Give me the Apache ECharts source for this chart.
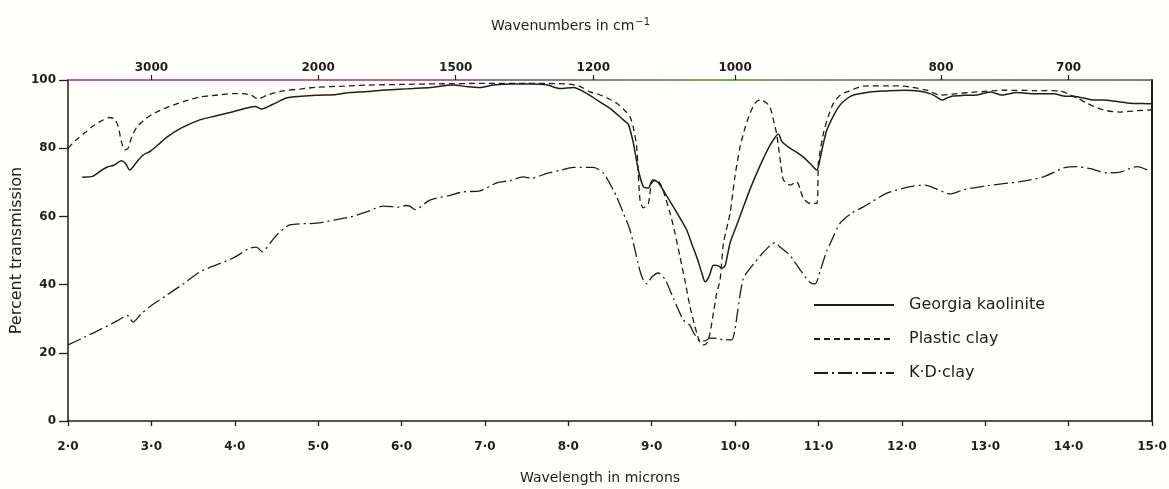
<!DOCTYPE html>
<html>
<head>
<meta charset="utf-8">
<script src="https://cdn.jsdelivr.net/npm/echarts@6/dist/echarts.min.js"></script>
<style>
html,body{margin:0;padding:0;background:#fefefa;}
#chart{width:1169px;height:489px;}
</style>
</head>
<body>
<div id="chart"></div>
<script>
// ---- Data (wavelength in microns, percent transmission) ----
const georgiaWavelength = [2.17,2.30,2.40,2.47,2.55,2.64,2.69,2.74,2.82,2.90,2.98,3.08,3.19,3.35,3.58,3.78,3.98,4.18,4.25,4.32,4.45,4.62,4.80,4.98,5.20,5.38,5.60,5.80,5.98,6.14,6.35,6.62,6.80,6.94,7.10,7.34,7.55,7.74,7.90,8.06,8.22,8.35,8.50,8.66,8.72,8.78,8.84,8.90,8.96,9.01,9.06,9.10,9.18,9.26,9.34,9.42,9.48,9.54,9.60,9.64,9.69,9.74,9.80,9.84,9.88,9.94,10.02,10.10,10.18,10.26,10.34,10.42,10.52,10.56,10.66,10.74,10.82,10.90,10.98,11.02,11.06,11.10,11.18,11.26,11.34,11.42,11.62,11.82,12.02,12.20,12.34,12.42,12.48,12.55,12.61,12.75,12.90,13.06,13.20,13.38,13.60,13.82,13.94,14.06,14.18,14.30,14.42,14.60,14.74,14.90,15.00];
const georgiaTransmission = [71.5,71.8,73.5,74.5,75.0,76.3,75.5,73.6,75.8,78.0,79.0,81.0,83.3,85.8,88.3,89.5,90.7,92.0,92.2,91.5,92.8,94.7,95.2,95.5,95.7,96.3,96.6,97.1,97.3,97.5,97.8,98.5,98.0,97.8,98.5,98.8,98.8,98.6,97.5,97.8,96.1,94.0,91.7,88.3,87.0,81.5,73.6,68.7,68.3,70.7,70.3,69.2,66.0,62.8,59.5,56.0,52.0,48.1,43.5,40.8,42.5,45.7,45.5,44.8,45.5,52.2,57.5,62.8,68.0,72.7,77.0,80.9,84.2,82.0,80.0,78.8,77.4,75.5,73.6,77.0,81.5,85.3,89.5,92.7,94.5,95.6,96.5,96.8,97.0,96.8,96.0,95.0,94.1,94.8,95.3,95.5,95.6,96.5,95.6,96.3,96.0,96.0,95.3,95.2,94.7,94.1,94.1,93.6,93.2,93.1,93.0];

const plasticWavelength = [2.00,2.10,2.20,2.30,2.40,2.50,2.56,2.60,2.64,2.68,2.72,2.76,2.82,2.90,3.00,3.19,3.40,3.58,3.80,3.98,4.10,4.20,4.28,4.38,4.58,4.80,4.99,5.30,5.60,6.00,6.50,7.00,7.50,8.00,8.15,8.26,8.34,8.46,8.58,8.68,8.74,8.78,8.82,8.86,8.90,8.96,9.00,9.06,9.12,9.22,9.28,9.34,9.40,9.46,9.54,9.58,9.62,9.66,9.70,9.74,9.78,9.82,9.86,9.94,10.00,10.06,10.12,10.18,10.24,10.30,10.38,10.42,10.46,10.50,10.52,10.55,10.58,10.66,10.74,10.78,10.82,10.90,10.98,11.00,11.06,11.12,11.18,11.26,11.34,11.54,11.80,12.02,12.30,12.46,12.66,12.90,13.22,13.60,13.90,14.02,14.12,14.22,14.42,14.62,14.82,15.00];
const plasticTransmission = [80.0,82.5,84.5,86.5,88.0,89.0,88.5,86.5,82.0,79.5,80.0,83.0,86.0,88.0,89.8,92.0,93.8,95.0,95.6,96.0,96.0,95.5,94.4,95.5,96.8,97.4,97.9,98.2,98.5,98.7,98.9,99.0,99.0,98.8,98.0,96.5,96.0,94.8,93.2,91.0,89.2,86.0,80.4,64.8,62.5,63.8,69.8,70.7,68.7,61.0,55.0,48.1,41.0,33.5,25.8,23.0,22.3,22.8,25.8,31.7,37.5,41.3,52.0,61.0,72.0,80.4,86.0,90.3,93.2,94.2,93.2,92.0,88.3,84.0,80.4,75.0,70.7,69.2,70.1,68.0,65.2,63.8,63.8,75.7,84.4,89.5,93.2,95.5,96.5,98.2,98.3,98.2,97.0,95.6,96.0,96.5,97.0,96.9,96.8,95.6,94.5,93.2,91.2,90.6,91.0,91.2];

const kdWavelength = [2.00,2.20,2.40,2.60,2.71,2.78,2.88,2.98,3.19,3.40,3.58,3.78,3.98,4.18,4.26,4.33,4.42,4.50,4.66,4.98,5.20,5.38,5.58,5.78,5.98,6.05,6.10,6.16,6.34,6.55,6.74,6.94,7.14,7.30,7.46,7.56,7.74,7.90,8.06,8.30,8.42,8.54,8.58,8.66,8.74,8.82,8.86,8.90,8.94,9.00,9.08,9.16,9.26,9.38,9.46,9.50,9.58,9.64,9.70,9.78,9.86,9.96,10.00,10.03,10.10,10.22,10.34,10.48,10.54,10.66,10.78,10.90,10.96,11.02,11.10,11.14,11.26,11.40,11.54,11.82,12.10,12.28,12.42,12.58,12.74,13.02,13.42,13.70,13.94,14.10,14.26,14.46,14.62,14.82,15.00];
const kdTransmission = [22.3,24.6,27.0,29.5,31.0,29.0,31.5,33.5,37.0,40.5,43.7,45.8,47.8,50.7,51.0,49.6,52.0,54.5,57.5,58.0,59.0,59.8,61.3,63.0,62.7,63.2,63.0,62.0,64.8,66.0,67.2,67.5,69.8,70.5,71.6,71.2,72.6,73.5,74.4,74.4,72.7,67.7,65.7,61.0,56.0,48.0,44.0,41.3,40.2,42.2,43.4,41.5,36.0,29.6,28.0,26.0,23.5,23.5,24.3,24.2,23.9,23.8,27.0,32.0,41.8,46.0,49.5,52.3,51.0,48.5,44.3,40.6,40.2,44.0,50.0,52.0,58.0,61.0,62.8,66.8,68.7,69.2,68.0,66.6,67.8,69.0,70.2,71.6,74.2,74.6,74.0,72.8,73.0,74.6,73.0];

const seriesNames = ['Georgia kaolinite', 'Plastic clay', 'K\u00B7D\u00B7clay'];

// Tick labels
const wavelengthTicks = [2,3,4,5,6,7,8,9,10,11,12,13,14,15];
const wavelengthTickLabels = ['2\u00B70','3\u00B70','4\u00B70','5\u00B70','6\u00B70','7\u00B70','8\u00B70','9\u00B70','10\u00B70','11\u00B70','12\u00B70','13\u00B70','14\u00B70','15\u00B70'];
const wavenumberTickLabels = ['3000','2000','1500','1200','1000','800','700'];
const wavenumberTickAt = [3.0, 5.0, 6.65, 8.3, 10.0, 12.47, 14.0]; // microns where the printed labels sit
const transmissionTicks = [0,20,40,60,80,100];

function pairs(xs, ys) { return xs.map((x, i) => [x, ys[i]]); }

const ink = '#1e1e1e';
const chart = echarts.init(document.getElementById('chart'), null, {renderer: 'canvas'});
const font = 'DejaVu Sans';

const topLineColor = new echarts.graphic.LinearGradient(0, 0, 1, 0, [
  { offset: 0, color: '#8a3d7e' },
  { offset: 0.45, color: '#7a4a6e' },
  { offset: 0.6, color: '#4f8a3a' },
  { offset: 0.8, color: '#6f5a66' },
  { offset: 1, color: '#6a4a66' }
]);

chart.setOption({
  backgroundColor: '#fefefa',
  animation: false,
  title: {
    text: 'Wavenumbers in cm{sup|\u22121}',
    left: 486, top: 12,
    textStyle: {
      fontFamily: font, fontSize: 14, fontWeight: 'normal', color: ink,
      rich: { sup: { fontFamily: font, fontSize: 10, verticalAlign: 'top', padding: [0,0,8,1], color: ink } }
    }
  },
  grid: { left: 68, right: 17, top: 80, bottom: 68, outerBoundsMode: 'none', containLabel: false },
  legend: {
    orient: 'vertical', left: 808, top: 292,
    itemWidth: 80, itemHeight: 14, itemGap: 18,
    itemStyle: { color: 'transparent', opacity: 0, borderWidth: 0 },
    textStyle: { fontFamily: font, fontSize: 16, color: ink, padding: [0,0,0,10] },
    data: seriesNames
  },
  xAxis: [
    {
      type: 'value', position: 'bottom', min: 2, max: 15, interval: 1,
      name: 'Wavelength in microns', nameLocation: 'middle', nameGap: 50, nameMoveOverlap: false,
      nameTextStyle: { fontFamily: font, fontSize: 14, color: ink, padding: [0,20,0,0] },
      axisLine: { onZero: false, lineStyle: { color: ink, width: 1.5 } },
      axisTick: { show: true, length: 5, lineStyle: { color: ink, width: 1.3 } },
      axisLabel: {
        margin: 20, fontFamily: font, fontSize: 12, fontWeight: 'bold', color: ink,
        formatter: v => { const i = wavelengthTicks.indexOf(Math.round(v)); return i >= 0 ? wavelengthTickLabels[i] : ''; }
      },
      splitLine: { show: false }
    },
    {
      type: 'value', position: 'top', min: 2, max: 15,
      axisLine: { onZero: false, lineStyle: { color: topLineColor, width: 1.5 } },
      axisTick: { show: true, length: 5, customValues: wavenumberTickAt, lineStyle: { color: ink, width: 1.2 } },
      axisLabel: {
        customValues: wavenumberTickAt, margin: 6,
        fontFamily: font, fontSize: 12, fontWeight: 'bold', color: ink,
        formatter: v => { let best = 0; wavenumberTickAt.forEach((p, i) => { if (Math.abs(p - v) < Math.abs(wavenumberTickAt[best] - v)) best = i; }); return wavenumberTickLabels[best]; }
      },
      splitLine: { show: false }
    }
  ],
  yAxis: [
    {
      type: 'value', min: 0, max: 100, interval: 20,
      name: 'Percent transmission', nameLocation: 'middle', nameGap: 43, nameRotate: 90, nameMoveOverlap: false,
      nameTextStyle: { fontFamily: font, fontSize: 16, color: ink },
      axisLine: { show: true, onZero: false, lineStyle: { color: ink, width: 1.5 } },
      axisTick: { show: true, length: 9, lineStyle: { color: ink, width: 1.3 } },
      axisLabel: { margin: 12, fontFamily: font, fontSize: 12, fontWeight: 'bold', color: ink,
        formatter: v => transmissionTicks.includes(v) ? String(v) : '' },
      splitLine: { show: false }
    },
    {
      type: 'value', min: 0, max: 100, position: 'right',
      axisLine: { show: true, onZero: false, lineStyle: { color: ink, width: 2 } },
      axisTick: { show: false }, axisLabel: { show: false }, splitLine: { show: false }
    }
  ],
  series: [
    {
      name: seriesNames[0], type: 'line', data: pairs(georgiaWavelength, georgiaTransmission),
      showSymbol: false, symbol: 'none', smooth: 0.25,
      lineStyle: { color: ink, width: 1.5, type: 'solid' }, itemStyle: { color: ink }
    },
    {
      name: seriesNames[1], type: 'line', data: pairs(plasticWavelength, plasticTransmission),
      showSymbol: false, symbol: 'none', smooth: 0.25,
      lineStyle: { color: ink, width: 1.3, type: [6, 4] }, itemStyle: { color: ink }
    },
    {
      name: seriesNames[2], type: 'line', data: pairs(kdWavelength, kdTransmission),
      showSymbol: false, symbol: 'none', smooth: 0.25,
      lineStyle: { color: ink, width: 1.3, type: [14, 4, 2, 4] }, itemStyle: { color: ink }
    }
  ]
});
</script>
</body>
</html>
